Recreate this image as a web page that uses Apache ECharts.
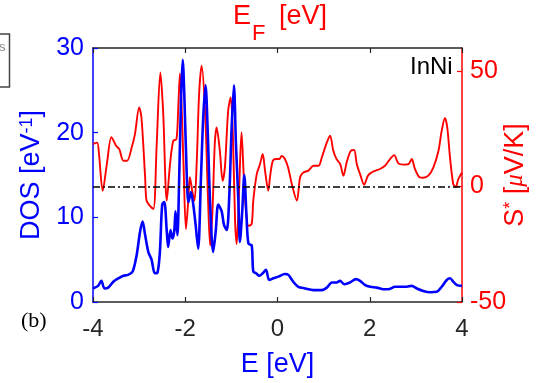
<!DOCTYPE html>
<html>
<head>
<meta charset="utf-8">
<script src="https://cdn.jsdelivr.net/npm/echarts@6/dist/echarts.min.js"></script>
<style>
html,body{margin:0;padding:0;background:#fff;}
#c{width:550px;height:383px;}
</style>
</head>
<body>
<div id="c"></div>
<script>
// Energy grid and DOS values (left axis, blue)
var eDos = [-4.0,-3.89,-3.82,-3.75,-3.67,-3.56,-3.45,-3.34,-3.24,-3.14,-3.055,-2.98,-2.925,-2.87,-2.80,-2.73,-2.66,-2.60,-2.55,-2.50,-2.455,-2.40,-2.37,-2.32,-2.28,-2.24,-2.21,-2.17,-2.135,-2.09,-2.055,-2.02,-1.97,-1.93,-1.876,-1.826,-1.775,-1.72,-1.66,-1.61,-1.56,-1.515,-1.465,-1.395,-1.34,-1.285,-1.21,-1.16,-1.10,-1.045,-0.995,-0.945,-0.90,-0.85,-0.815,-0.765,-0.72,-0.67,-0.63,-0.56,-0.525,-0.465,-0.395,-0.32,-0.25,-0.18,-0.09,0.02,0.16,0.235,0.34,0.45,0.60,0.78,0.96,1.07,1.18,1.28,1.355,1.45,1.57,1.70,1.79,1.90,2.01,2.15,2.30,2.40,2.55,2.69,2.80,2.91,3.02,3.16,3.31,3.45,3.56,3.67,3.74,3.81,3.89,4.0];
var dos = [1.6,1.9,2.5,1.6,1.7,2.4,2.8,3.1,3.2,3.6,5.5,8.3,9.5,7.9,5.9,5.0,3.4,3.5,5.9,11.5,11.8,8.3,6.5,8.5,7.5,8.3,10.7,7.9,13.8,24.4,28.6,24.4,15.4,11.8,13.0,11.5,9.1,6.3,14.6,21.8,25.6,20.5,12.2,5.9,8.3,11.5,10.7,9.1,8.5,12.6,20.5,25.6,18.5,12.2,7.1,10.7,15.0,9.9,6.9,6.7,3.6,3.4,3.1,3.4,3.8,2.6,2.8,3.0,3.3,3.2,2.4,1.8,1.6,1.4,1.4,1.7,2.3,2.3,2.5,2.1,2.3,2.7,2.5,2.0,1.8,1.7,1.5,1.5,1.8,1.8,1.8,1.9,1.6,1.3,1.15,1.2,1.8,2.6,2.8,2.4,2.0,1.9];

// Energy grid and Seebeck values (right axis, red)
var eS = [-4.0,-3.91,-3.87,-3.79,-3.70,-3.60,-3.50,-3.43,-3.34,-3.26,-3.16,-3.09,-3.00,-2.95,-2.87,-2.84,-2.77,-2.69,-2.62,-2.54,-2.48,-2.40,-2.33,-2.26,-2.19,-2.15,-2.115,-2.04,-1.985,-1.93,-1.90,-1.85,-1.80,-1.75,-1.70,-1.645,-1.57,-1.51,-1.46,-1.41,-1.36,-1.32,-1.25,-1.19,-1.14,-1.07,-1.015,-0.97,-0.92,-0.885,-0.835,-0.78,-0.73,-0.67,-0.63,-0.56,-0.525,-0.45,-0.38,-0.32,-0.27,-0.20,-0.16,-0.10,-0.03,0.04,0.09,0.16,0.23,0.31,0.42,0.49,0.56,0.67,0.78,0.89,0.96,1.07,1.14,1.21,1.28,1.36,1.43,1.50,1.59,1.66,1.72,1.79,1.88,1.96,2.04,2.11,2.22,2.33,2.44,2.53,2.62,2.73,2.84,2.91,2.98,3.08,3.16,3.27,3.38,3.49,3.56,3.63,3.68,3.74,3.81,3.865,3.92,4.0];
var seebeck = [18.4,19.0,14.0,-1.8,9.7,21.4,17.7,16.2,11.2,11.2,17.0,22.7,34.3,30.0,4.0,-6.0,-8.3,-9.7,18.0,49.4,32.8,-6.1,9.7,19.8,20.5,35.0,49.0,11.2,-18.4,-4.6,4.1,-1.8,-6.1,11.2,40.0,52.3,32.8,-3.2,-25.6,-10.5,18.4,25.6,15.5,2.5,8.4,32.8,38.6,24.0,-14.8,-24.9,-3.2,23.5,4.0,-13.3,-17.0,-16.2,-6.1,5.4,9.7,14.1,6.8,-1.8,4.5,11.2,11.9,11.9,13.3,11.9,8.3,1.1,-6.1,4.0,6.1,6.9,9.0,9.0,12.6,19.1,22.0,15.5,11.9,9.7,4.7,10.5,15.5,15.8,9.7,5.4,0.8,4.7,6.1,6.8,7.6,9.0,11.9,13.6,10.0,9.5,9.7,11.9,7.6,4.0,3.8,4.7,8.3,15.5,24.2,29.7,25.6,12.6,1.1,-0.1,3.2,6.1];

// Axis ticks
var xTicks = {min: -4, max: 4, step: 2};
var dosTicks = {min: 0, max: 30, step: 10};
var sTicks = {min: -50, max: 60, step: 50};
var fermiLevelS = 0;

function zip(a, b) { return a.map(function (v, i) { return [v, b[i]]; }); }

var BLUE = '#0000ff', RED = '#ff0000', DARK = '#262626';
var chart = echarts.init(document.getElementById('c'), null, {renderer: 'canvas'});
var font = 'Liberation Sans, Arial, sans-serif';

chart.setOption({
  animation: false,
  backgroundColor: '#ffffff',
  textStyle: {fontFamily: font},
  grid: {left: 93, right: 88, top: 48, bottom: 81, containLabel: false},
  xAxis: [{
    type: 'value', position: 'bottom', min: xTicks.min, max: xTicks.max, interval: xTicks.step,
    axisLine: {onZero: false, lineStyle: {color: DARK, width: 1.5}},
    axisTick: {inside: true, length: 5, lineStyle: {color: DARK, width: 1.2}},
    axisLabel: {color: DARK, fontSize: 24, margin: 15, fontFamily: font},
    splitLine: {show: false},
    name: 'E [eV]', nameLocation: 'middle', nameGap: 49,
    nameTextStyle: {color: BLUE, fontSize: 27, fontFamily: font}
  }, {
    type: 'value', position: 'top', min: xTicks.min, max: xTicks.max, interval: xTicks.step,
    axisLine: {onZero: false, lineStyle: {color: DARK, width: 1.5}},
    axisTick: {inside: true, length: 5, lineStyle: {color: DARK, width: 1.2}},
    axisLabel: {show: false},
    splitLine: {show: false}
  }],
  yAxis: [{
    type: 'value', position: 'left', min: dosTicks.min, max: dosTicks.max, interval: dosTicks.step,
    axisLine: {show: true, onZero: false, lineStyle: {color: BLUE, width: 1.5}},
    axisTick: {show: true, inside: true, length: 5, lineStyle: {color: BLUE, width: 1.2}},
    axisLabel: {color: BLUE, fontSize: 25, margin: 9, fontFamily: font},
    splitLine: {show: false},
    name: 'DOS [eV{sup|-1}]', nameLocation: 'middle', nameRotate: 90, nameGap: 36,
    nameTextStyle: {color: BLUE, fontSize: 27, fontFamily: font,
      rich: {sup: {fontSize: 18, color: BLUE, verticalAlign: 'top', fontFamily: font}}}
  }, {
    type: 'value', position: 'right', min: sTicks.min, max: sTicks.max, interval: sTicks.step,
    axisLine: {show: true, onZero: false, lineStyle: {color: RED, width: 1.5}},
    axisTick: {show: true, inside: true, length: 5, lineStyle: {color: RED, width: 1.2}},
    axisLabel: {color: RED, fontSize: 25, margin: 8, fontFamily: font, showMaxLabel: false},
    splitLine: {show: false},
    name: 'S{sup|*} [{mu|\u03bc}V/K]', nameLocation: 'middle', nameRotate: 90, nameGap: 40,
    nameMoveOverlap: false,
    nameTextStyle: {color: RED, fontSize: 27, fontFamily: font,
      rich: {sup: {fontSize: 18, color: RED, verticalAlign: 'top', fontFamily: font},
             mu: {fontSize: 25, color: RED, fontStyle: 'italic', fontFamily: 'Liberation Serif, serif'}}}
  }],
  series: [{
    name: 'S', type: 'line', xAxisIndex: 0, yAxisIndex: 1,
    data: zip(eS, seebeck), showSymbol: false, smooth: 0.3, z: 3,
    lineStyle: {color: RED, width: 1.9},
    markLine: {
      silent: true, symbol: 'none', label: {show: false},
      lineStyle: {color: '#000000', width: 1.5, type: [7, 3, 2, 3]},
      data: [{yAxis: fermiLevelS}]
    }
  }, {
    name: 'DOS', type: 'line', xAxisIndex: 0, yAxisIndex: 0,
    data: zip(eDos, dos), showSymbol: false, smooth: 0.3, z: 4,
    lineStyle: {color: BLUE, width: 2.6}
  }],
  graphic: [
    {type: 'rect', shape: {x: -10, y: 34, width: 19.5, height: 53},
     style: {fill: '#ffffff', stroke: '#444444', lineWidth: 1.5}},
    {type: 'text', x: -1, y: 47, style: {text: 's', fill: '#888888', font: '13px ' + font, verticalAlign: 'middle'}},
    {type: 'text', x: 233, y: 17, style: {text: 'E', fill: RED, font: '27px ' + font, verticalAlign: 'middle'}},
    {type: 'text', x: 252, y: 34, style: {text: 'F', fill: RED, font: '22px ' + font, verticalAlign: 'middle'}},
    {type: 'text', x: 279, y: 17, style: {text: '[eV]', fill: RED, font: '27px ' + font, verticalAlign: 'middle'}},
    {type: 'text', x: 410, y: 67, style: {text: 'InNi', fill: '#000000', font: '24px ' + font, verticalAlign: 'middle'}},
    {type: 'text', x: 21, y: 321, style: {text: '(b)', fill: '#000000', font: '22px Liberation Serif, Times New Roman, serif', verticalAlign: 'middle'}}
  ]
});
</script>
</body>
</html>
